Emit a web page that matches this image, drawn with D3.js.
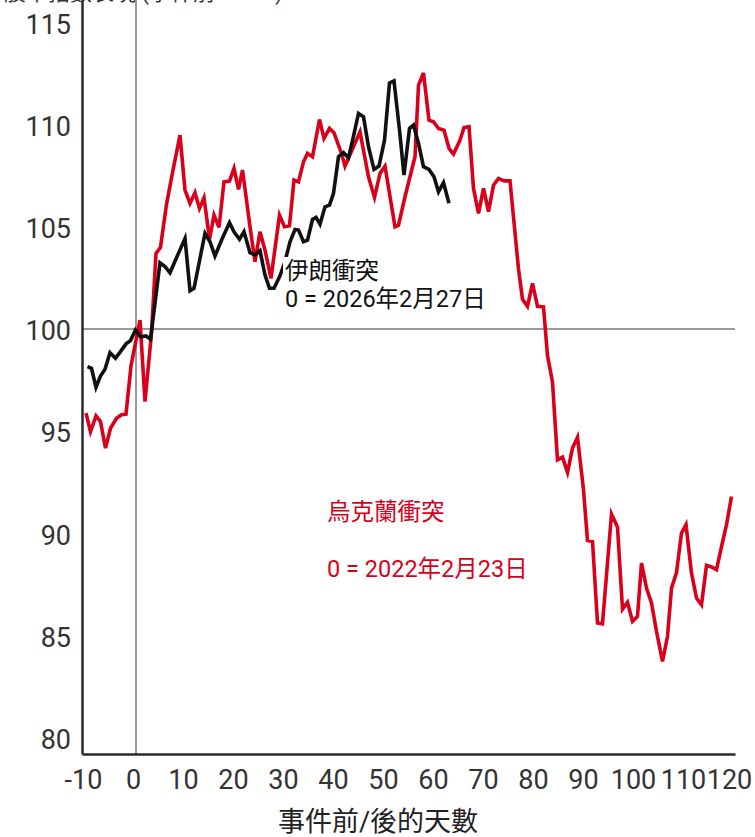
<!DOCTYPE html>
<html>
<head>
<meta charset="utf-8">
<script src="https://cdn.jsdelivr.net/npm/d3@7/dist/d3.min.js"></script>
<style>
  html, body { margin: 0; padding: 0; background: #fff; }
  svg { display: block; }
  .tick text { font-family: Roboto, "Noto Sans CJK TC", sans-serif; }
</style>
</head>
<body>
<div id="chart"></div>
<script>
// 烏克蘭衝突 (0 = 2022-02-23) vs 伊朗衝突 (0 = 2026-02-27), index = 100 on day 0

const ukraineDays = [
  -10, -9.1, -8, -7.1, -6.1, -5.1, -3.9, -2.9, -2, -1, 0.8, 1.8, 3.1, 4, 4.9, 6.1, 7.5, 8.8,
  9.8, 10.8, 11.8, 12.7, 13.6, 14.7, 15.6, 16.6, 17.6, 18.7, 19.6, 20.5, 21.3, 22.8, 23.8,
  24.8, 25.8, 27, 28.7, 29.7, 30.7, 31.6, 32.5, 33.5, 34.3, 35.3, 36.7, 37.6, 38.7, 39.6,
  41.1, 41.8, 44.8, 46.5, 47.7, 48.8, 49.8, 51.8, 52.5, 53.8, 55.8, 56.5, 57.5, 58.6, 59.5,
  60.5, 61.6, 62.6, 63.5, 64.8, 65.6, 66.6, 67.5, 68.5, 69.5, 70.5, 71.5, 72.5, 73.6, 74.8,
  76.5, 77.3, 78.3, 79.3, 80.3, 81.5, 82.3, 83.3, 84.3, 85.3, 86.3, 87.3, 88.3, 89.5, 90.3,
  91.3, 92.3, 93.3, 95.1, 96.3, 97.3, 98.3, 99.3, 100.3, 101.1, 102.1, 103.1, 104.1, 105.3,
  106.3, 107.1, 108.1, 109.1, 110, 111.1, 112.1, 113.1, 114.1, 115.1, 116.1, 117.1, 118.1, 119.1
];
const ukraineValues = [
  95.88, 94.98, 95.75, 95.47, 94.17, 95.14, 95.63, 95.8, 95.83, 98.2, 100.44, 96.45, 99.8, 103.7, 104.0, 106.1, 107.9, 109.49,
  106.8, 106.15, 106.67, 105.9, 106.42, 104.39, 105.57, 104.97, 107.2, 107.24, 107.86, 106.83, 107.78, 105.0, 103.29,
  104.76, 103.86, 102.48, 105.57, 105.0, 105.05, 107.29, 107.2, 108.18, 108.59, 108.43, 110.25, 109.33, 109.81, 109.6,
  108.59, 107.97, 109.65, 107.45, 106.44, 107.61, 107.97, 105.0, 105.08, 106.47, 108.43, 111.93, 112.53, 110.22, 110.14,
  109.81, 109.73, 108.84, 108.56, 109.24, 109.86, 109.9, 106.88, 105.66, 106.88, 105.74, 107.04, 107.37, 107.25, 107.25,
  102.94, 101.45, 101.11, 102.23, 101.11, 101.08, 98.7, 97.4, 93.6, 93.73, 92.98, 94.17, 94.7, 92.13, 89.65,
  89.6, 85.61, 85.57, 90.94, 90.3, 86.29, 86.62, 85.69, 85.93, 88.54, 87.32, 86.59, 85.2, 83.73,
  84.95, 87.32, 88.08, 90.01, 90.42, 88.05, 86.83, 86.5, 88.43, 88.35, 88.22, 89.35, 90.42, 91.8
];

const iranDays = [
  -9.7, -8.9, -8, -7.1, -6.2, -5.2, -4.1, -3.1, -2, -1.1, -0.1, 0.9, 2, 2.9, 4.8, 5.8, 6.8, 8.3,
  9.8, 10.8, 11.6, 13.8, 14.8, 15.8, 17.2, 18.7, 19.6, 20.7, 21.6, 22.8, 23.8, 24.8, 25.8, 26.7,
  27.6, 28.8, 29.8, 30.8, 31.8, 32.5, 33.5, 34.3, 35.3, 36, 36.8, 37.8, 38.7, 39.5, 40.5, 41.5,
  42.5, 43.5, 44.5, 45.5, 46.5, 47.6, 48.6, 49.7, 50.7, 51.6, 52.7, 53.6, 54.7, 55.5, 56.5,
  57.5, 58.6, 59.6, 60.5, 61.5, 62.6
];
const iranValues = [
  98.16, 98.08, 97.15, 97.7, 98.03, 98.84, 98.57, 98.89, 99.27, 99.43, 99.95, 99.62, 99.66, 99.5, 103.24, 103.05, 102.75, 103.6,
  104.43, 101.87, 101.99, 104.68, 104.27, 103.57, 104.4, 105.2, 104.76, 104.39, 104.76, 103.73, 103.62, 103.83, 102.64, 101.99,
  101.99, 102.6, 103.3, 104.27, 104.87, 104.84, 104.27, 104.35, 105.36, 105.46, 105.13, 105.98, 106.06, 106.64, 108.43, 108.63,
  108.38, 109.44, 110.55, 110.38, 108.92, 107.81, 107.97, 109.24, 112.04, 112.14, 109.73, 107.53, 109.81, 109.98, 109.08,
  107.94, 107.81, 107.45, 106.71, 107.16, 106.15
];

const xTicks = [-10, 0, 10, 20, 30, 40, 50, 60, 70, 80, 90, 100, 110, 120];
const yTicks = [80, 85, 90, 95, 100, 105, 110, 115];

const width = 755, height = 837;
const red = '#d9001b', ink = '#111';
const sans = 'Roboto, "Noto Sans CJK TC", sans-serif';

const svg = d3.select('#chart').append('svg')
  .attr('width', width)
  .attr('height', height);

const x = d3.scaleLinear().domain([-10.8, 119.8]).range([82, 735]);
const y = d3.scaleLinear().domain([79.2, 116.1]).range([754, 0]);

// Title (cut off at the top edge in the original)
svg.append('text')
  .attr('x', 4)
  .attr('y', 0)
  .attr('font-family', sans)
  .attr('font-size', 22)
  .attr('fill', '#333')
  .text('股市指數表現 (事件前 = 100)');

// Reference lines
svg.append('line')
  .attr('x1', x(0)).attr('x2', x(0))
  .attr('y1', 0).attr('y2', y.range()[0])
  .attr('stroke', '#9a9a9a').attr('stroke-width', 2);

svg.append('line')
  .attr('x1', x.range()[0]).attr('x2', x.range()[1])
  .attr('y1', y(100)).attr('y2', y(100))
  .attr('stroke', '#9a9a9a').attr('stroke-width', 2);

// Axes
const xAxis = svg.append('g')
  .attr('transform', `translate(0,${y.range()[0]})`)
  .call(d3.axisBottom(x).tickValues(xTicks).tickFormat(d => String(d))
    .tickSize(0).tickSizeOuter(0).tickPadding(0));

xAxis.select('.domain').attr('stroke', '#2a2a2a').attr('stroke-width', 2.5);
xAxis.selectAll('.tick text')
  .attr('y', 35)
  .attr('dy', 0)
  .attr('dx', d => d === 120 ? -7 : -3)
  .attr('font-size', 27)
  .attr('fill', '#333');

const yAxis = svg.append('g')
  .attr('transform', `translate(${x.range()[0]},0)`)
  .call(d3.axisLeft(y).tickValues(yTicks).tickFormat(d => String(d))
    .tickSize(0).tickSizeOuter(0).tickPadding(11));

yAxis.select('.domain').attr('stroke', '#2a2a2a').attr('stroke-width', 2.5);
yAxis.selectAll('.tick text')
  .attr('dy', '0.4em')
  .attr('font-size', 27)
  .attr('fill', '#333');

svg.append('text')
  .attr('x', 378)
  .attr('y', 831)
  .attr('text-anchor', 'middle')
  .attr('font-family', sans)
  .attr('font-size', 27)
  .attr('fill', '#222')
  .text('事件前/後的天數');

// Lines
const line = d3.line()
  .x(d => x(d[0]))
  .y(d => y(d[1]));

svg.append('path')
  .datum(d3.zip(ukraineDays, ukraineValues))
  .attr('d', line)
  .attr('fill', 'none')
  .attr('stroke', red)
  .attr('stroke-width', 3.6);

svg.append('path')
  .datum(d3.zip(iranDays, iranValues))
  .attr('d', line)
  .attr('fill', 'none')
  .attr('stroke', ink)
  .attr('stroke-width', 3.6);

// Labels with white backing
function label(lines, x0, baselines, color) {
  const g = svg.append('g');
  lines.forEach((t, i) => {
    const txt = g.append('text')
      .attr('x', x0)
      .attr('y', baselines[i])
      .attr('font-family', sans)
      .attr('font-size', 23.5)
      .attr('fill', color)
      .text(t);
    const b = txt.node().getBBox();
    g.insert('rect', 'text')
      .attr('x', b.x - 2).attr('y', b.y)
      .attr('width', b.width + 4).attr('height', b.height)
      .attr('fill', '#fff');
  });
}

label(['伊朗衝突', '0 = 2026年2月27日'], 285, [279, 307], ink);
label(['烏克蘭衝突', '0 = 2022年2月23日'], 327, [520, 577], red);
</script>
</body>
</html>
